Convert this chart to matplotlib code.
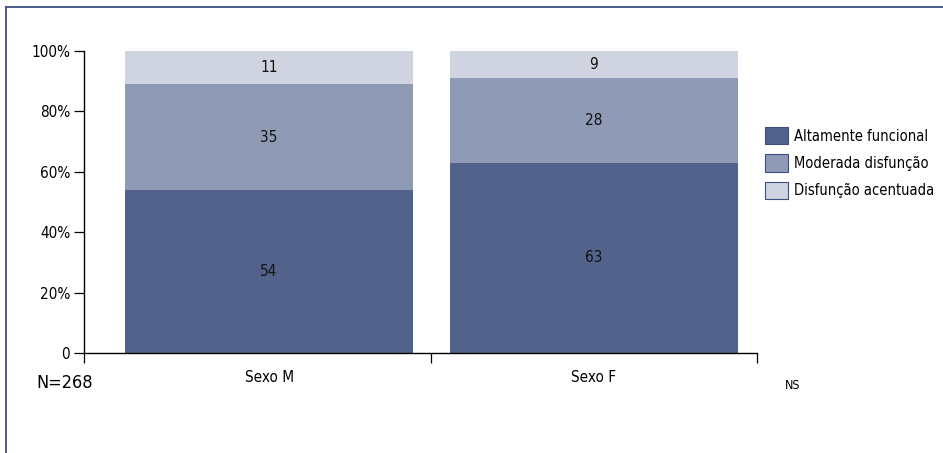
import matplotlib
matplotlib.use("Agg")
import matplotlib.pyplot as plt
from matplotlib.lines import Line2D
from matplotlib.patches import Patch

plt.rcParams['font.family'] = ['DejaVu Sans']
plt.rcParams['font.stretch'] = 'condensed'

categories = ["Sexo M", "Sexo F"]
series_names = ["Altamente funcional", "Moderada disfunção", "Disfunção acentuada"]
altamente = [54, 63]
moderada = [35, 28]
acentuada = [11, 9]
y_ticks = [0, 20, 40, 60, 80, 100]
y_tick_labels = ["0", "20%", "40%", "60%", "80%", "100%"]

colors = ["#52628a", "#8f9ab4", "#cfd4e0"]

fig = plt.figure(figsize=(9.43, 4.53), dpi=100)
ax = fig.add_axes([0.0891, 0.2208, 0.7137, 0.6667])

x = [0.05, 1.015]
width = 0.855
bottom = [0, 0]
for vals, col in zip([altamente, moderada, acentuada], colors):
    ax.bar(x, vals, width=width, bottom=bottom, color=col, edgecolor='none')
    for xi, v, b in zip(x, vals, bottom):
        ax.text(xi, b + v / 2, str(v), ha='center', va='center', fontsize=11, color='#111111')
    bottom = [b + v for b, v in zip(bottom, vals)]

ax.set_xlim(-0.5, 1.5)
ax.set_ylim(0, 100)
ax.set_yticks(y_ticks)
ax.set_yticklabels(y_tick_labels, fontsize=11)
ax.set_xticks([-0.5, 0.53, 1.5])
ax.set_xticklabels([])
ax.set_xticks(x, minor=True)
ax.set_xticklabels(categories, minor=True, fontsize=11)
ax.tick_params(axis='x', which='minor', length=0, pad=12)
ax.tick_params(axis='x', which='major', direction='out', length=7, width=0.9)
ax.tick_params(axis='y', direction='out', length=7, width=0.9, pad=3)
for s in ['top', 'right']:
    ax.spines[s].set_visible(False)
ax.spines['left'].set_linewidth(1.0)
ax.spines['bottom'].set_linewidth(1.0)

handles = [Patch(facecolor=c, edgecolor='#3d4f80', linewidth=0.8) for c in colors]
fig.legend(handles, series_names, loc='upper left', bbox_to_anchor=(0.805, 0.732),
           frameon=False, fontsize=10.5, handlelength=1.57, handleheight=1.44,
           handletextpad=0.45, labelspacing=0.68, borderaxespad=0)

fig.text(0.039, 0.155, "N=268", fontsize=13, va='center', ha='left')
fig.text(0.832, 0.150, "NS", fontsize=9, va='center', ha='left')

# outer frame lines (top and left)
frame_col = '#3d4f80'
fig.add_artist(Line2D([0.006, 1.0], [0.984, 0.984], color=frame_col, lw=1.3, transform=fig.transFigure))
fig.add_artist(Line2D([0.006, 0.006], [0.0, 0.984], color=frame_col, lw=1.3, transform=fig.transFigure))

fig.savefig("out.png", dpi=100)
